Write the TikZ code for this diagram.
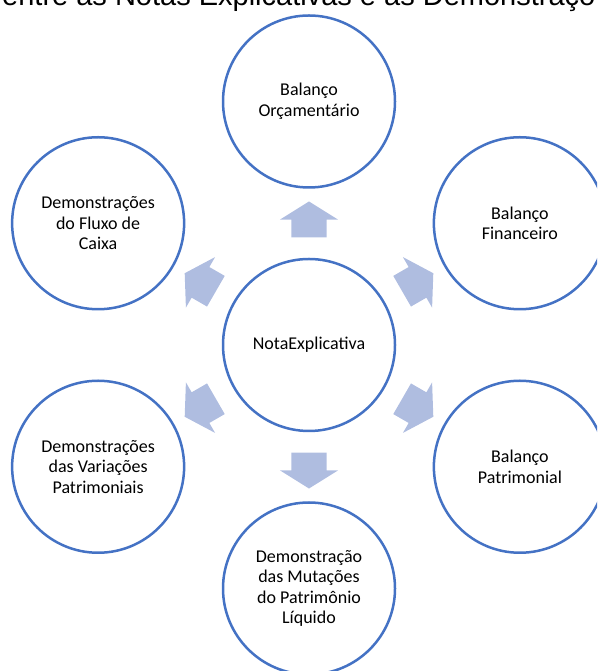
\documentclass[tikz,border=0pt]{standalone}
\usepackage{fontspec}
\setmainfont{Carlito}
\newfontfamily\titulofonte{Liberation Sans}
\usepackage{tikz}
\usetikzlibrary{shapes,arrows,positioning,calc}

\definecolor{azulborda}{RGB}{68,114,196}
\definecolor{azulseta}{RGB}{175,189,224}

\begin{document}
\begin{tikzpicture}[
x=1pt, y=1pt,
demo-node/.style = {circle,draw=azulborda,line width=2.5pt,minimum size=172pt,inner sep=0pt,
  align=center,font=\fontsize{18}{20.5}\selectfont},
seta/.style = {single arrow,fill=azulseta,draw=none,minimum height=36pt,
  inner xsep=0pt,inner ysep=17.5pt,single arrow head extend=11.5pt,
  single arrow tip angle=116}
]

\useasboundingbox (0,0) rectangle (597,671);
\clip (0,0) rectangle (597,671);

\node [demo-node] (nota) at (309, 326) {NotaExplicativa};
\node [demo-node] (orc) at ($(nota)+(90:243.5)$) {Balanço\\Orçamentário};
\node [demo-node] (fin) at ($(nota)+(30:243.5)$) {Balanço\\Financeiro};
\node [demo-node] (pat) at ($(nota)+(-30:243.5)$) {Balanço\\Patrimonial};
\node [demo-node] (dmpl) at ($(nota)+(-90:243.5)$) {Demonstração\\das Mutações\\do Patrimônio\\Líquido};
\node [demo-node] (dvp) at ($(nota)+(-150:243.5)$) {Demonstrações\\das Variações\\Patrimoniais};
\node [demo-node] (dfc) at ($(nota)+(150:243.5)$) {Demonstrações\\do Fluxo de\\Caixa};

% title (cut at the top)
\node [anchor=base west,inner sep=0pt,font=\titulofonte\fontsize{29}{33}\selectfont] (titulo)
  at (2, 665.5) {entre as Notas Explicativas e as Demonstraçõ};

% arrows
\foreach \ang/\nome in {90/orc, 30/fin, -30/pat, -90/dmpl, -150/dvp, 150/dfc}
  \node [seta, rotate=\ang] (seta-\nome) at ($(nota)+(\ang:120)$) {};

\end{tikzpicture}
\end{document}
